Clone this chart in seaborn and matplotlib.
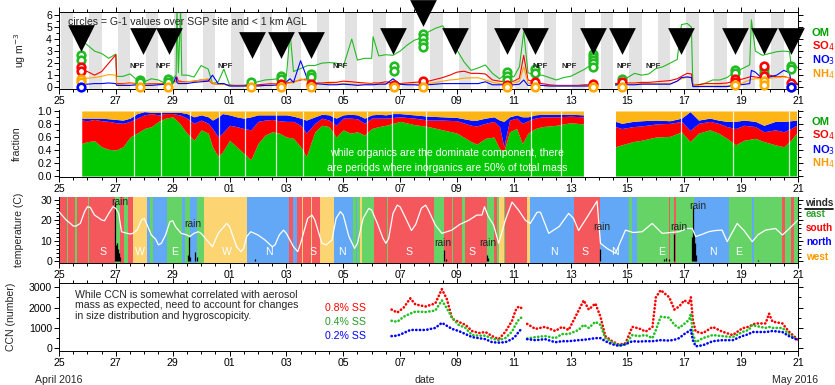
import numpy as np
import matplotlib
matplotlib.use('Agg')
import matplotlib.pyplot as plt
import seaborn as sns
from matplotlib.ticker import FixedLocator, MultipleLocator

nan = np.nan

# x axis = days since 25 April 2016 00 UTC
tick_pos = [0, 2, 4, 6, 8, 10, 12, 14, 16, 18, 20, 22, 24, 26]
tick_labels = ['25', '27', '29', '01', '03', '05', '07', '09', '11', '13', '15', '17', '19', '21']

# ---------------- panel 1: mass concentrations (ug m-3)
mass_t = [0.8, 0.85, 1.0, 1.25, 1.5, 1.75, 2.0, 2.03, 2.25, 2.5,
          2.75, 3.0, 3.25, 3.5, 3.75, 4.0, 4.12, 4.15, 4.2, 4.28,
          4.32, 4.5, 4.75, 5.0, 5.25, 5.4, 5.6, 5.8, 6.0, 6.25,
          6.5, 6.75, 7.0, 7.25, 7.5, 7.75, 8.0, 8.13, 8.25, 8.5,
          8.75, 9.0, 9.25, 9.5, 9.75, 10.0, 10.3, 10.5, 10.75, 11.0,
          11.05, 11.25, 11.5, 11.75, 12.0, 12.25, 12.5, 12.75, 13.0, 13.25,
          13.5, 13.75, 14.0, 14.25, 14.5, 14.75, 15.0, 15.25, 15.5, 15.75,
          16.0, 16.2, 16.35, 16.5, 16.75, 17.0, 17.25, 17.5, 17.75, 18.0,
          18.25, 18.5, 18.7, 19.0, 19.58, 19.75, 20.0, 20.25, 20.5, 20.75,
          21.0, 21.25, 21.5, 21.75, 21.9, 22.1, 22.25, 22.3, 22.5, 22.75,
          23.0, 23.25, 23.5, 23.75, 24.0, 24.3, 24.36, 24.5, 24.75, 25.0,
          25.25, 25.5, 25.7, 25.75, 26.0]
om = [3.9, 3.8, 3.5, 3.0, 2.8, 2.4, 2.75, 0.9, 0.9, 1.1,
      0.6, 0.45, 0.7, 0.6, 0.3, 0.7, 1.0, 6.5, 1.2, 6.5,
      1.0, 1.0, 0.85, 1.8, 1.5, 0.3, 0.45, 1.5, 0.2, 0.1,
      0.15, 0.3, 0.45, 0.6, 0.65, 0.7, 0.9, 4.5, 1.3, 1.55,
      1.8, 1.8, 2.0, 2.05, 2.0, 1.7, 4.0, 2.25, 2.4, 2.4,
      4.2, 2.6, 2.7, 2.65, 3.0, 3.5, 3.9, 4.1, 4.6, 4.9,
      5.1, 4.2, 3.1, 2.1, 1.4, 1.6, 1.85, 1.15, 0.7, 1.15,
      0.85, 1.7, 4.6, 1.2, 1.0, 1.0, 0.8, 0.6, 0.8, 0.9,
      1.2, 1.5, 1.85, nan, 0.15, 0.3, 0.8, 1.15, 1.0, 1.1,
      1.55, 1.7, 2.0, 2.3, 5.2, 5.3, 5.0, 0.15, 0.2, 0.35,
      0.6, 0.6, 0.8, 1.2, 1.5, 1.85, 5.6, 3.0, 2.65, 2.8,
      2.95, 3.0, 2.95, 2.0, 1.6]
so4 = [1.4, 1.4, 1.3, 1.0, 1.3, 2.0, 2.7, 0.3, 0.3, 0.35,
       0.3, 0.25, 0.3, 0.3, 0.3, 0.45, 0.5, 0.85, 0.5, 0.5,
       0.45, 0.45, 0.5, 0.6, 0.6, 0.3, 0.25, 0.25, 0.15, 0.15,
       0.15, 0.15, 0.2, 0.25, 0.3, 0.3, 0.35, 0.4, 0.45, 0.6,
       0.7, 0.35, 0.35, 0.4, 0.4, 0.5, 0.45, 0.4, 0.35, 0.3,
       0.35, 0.35, 0.45, 0.35, 0.3, 0.35, 0.4, 0.45, 0.5, 0.65,
       0.8, 1.0, 1.25, 1.33, 1.15, 1.15, 1.1, 0.6, 0.5, 0.45,
       0.5, 0.75, 2.65, 0.6, 0.4, 0.3, 0.2, 0.15, 0.15, 0.15,
       0.15, 0.2, 0.2, nan, 0.3, 0.35, 0.35, 0.35, 0.4, 0.4,
       0.45, 0.5, 0.55, 0.7, 0.9, 1.15, 1.1, 0.15, 0.2, 0.3,
       0.3, 0.3, 0.35, 0.5, 0.65, 0.85, 0.9, 0.85, 0.75, 1.0,
       0.85, 0.9, 0.75, 0.5, 0.3]
no3 = [0.25, 0.25, 0.25, 0.3, 0.3, 0.35, 0.3, 0.15, 0.15, 0.15,
       0.2, 0.15, 0.15, 0.2, 0.25, 0.3, 0.85, 0.4, 0.3, 0.3,
       0.3, 0.3, 0.4, 0.45, 0.5, 1.0, 0.3, 0.3, 0.1, 0.1,
       0.1, 0.1, 0.1, 0.15, 0.15, 0.2, 0.45, 0.7, 0.4, 2.2,
       0.6, 0.3, 0.25, 0.2, 0.2, 0.25, 0.2, 0.15, 0.2, 0.2,
       0.2, 0.25, 0.25, 0.7, 0.25, 0.2, 0.2, 0.15, 0.2, 0.25,
       0.3, 0.3, 0.3, 0.3, 0.3, 0.3, 0.45, 0.2, 0.2, 0.2,
       0.2, 0.25, 0.6, 0.15, 0.15, 0.15, 0.1, 0.1, 0.1, 0.1,
       0.1, 0.1, 0.1, nan, 0.2, 0.2, 0.2, 0.2, 0.25, 0.25,
       0.25, 0.25, 0.25, 0.5, 0.8, 0.85, 0.8, 0.05, 0.05, 0.05,
       0.05, 0.05, 0.05, 0.15, 0.2, 0.3, 1.4, 1.25, 0.7, 0.85,
       1.0, 1.4, 1.2, 0.5, 0.2]
nh4 = [0.72, 0.72, 0.75, 0.8, 0.9, 1.05, 1.0, 0.22, 0.25, 0.3,
       0.25, 0.2, 0.25, 0.25, 0.25, 0.35, 0.45, 0.5, 0.4, 0.4,
       0.4, 0.45, 0.5, 0.6, 0.7, 0.35, 0.25, 0.25, 0.1, 0.1,
       0.1, 0.1, 0.1, 0.15, 0.25, 0.3, 0.3, 0.35, 0.35, 0.7,
       0.5, 0.3, 0.3, 0.3, 0.25, 0.3, 0.25, 0.25, 0.25, 0.25,
       0.25, 0.25, 0.3, 0.25, 0.25, 0.25, 0.25, 0.25, 0.3, 0.4,
       0.5, 0.6, 0.65, 0.75, 0.78, 0.78, 0.6, 0.4, 0.3, 0.3,
       0.35, 0.5, 1.7, 0.35, 0.2, 0.15, 0.1, 0.1, 0.1, 0.1,
       0.1, 0.1, 0.1, nan, 0.2, 0.25, 0.25, 0.25, 0.3, 0.3,
       0.3, 0.3, 0.3, 0.5, 0.7, 0.85, 0.8, 0.1, 0.1, 0.1,
       0.1, 0.1, 0.1, 0.2, 0.3, 0.6, 0.65, 0.7, 0.7, 0.75,
       0.8, 0.85, 0.8, 0.45, 0.2]

# G-1 aircraft values (circles) and flight markers (triangles)
om_circ_t = [0.77, 0.77, 2.85, 2.85, 3.85, 3.85, 6.75, 7.8, 7.8, 8.85, 8.85, 11.78, 11.78,
             12.82, 12.82, 12.82, 12.82, 15.77, 15.77, 15.77, 16.76, 16.76,
             18.8, 18.8, 18.8, 18.8, 18.8, 19.82, 23.8, 23.8, 24.79, 24.79, 25.74, 25.74]
om_circ_v = [2.65, 2.25, 0.6, 0.45, 0.7, 0.45, 0.4, 0.95, 0.7, 1.1, 0.85, 1.75, 1.35,
             4.45, 4.05, 3.65, 3.3, 1.3, 0.95, 0.6, 1.55, 1.15,
             2.8, 2.5, 2.25, 1.97, 1.7, 0.72, 1.4, 1.15, 1.5, 1.2, 1.8, 1.5]
so4_circ_t = [0.77, 0.77, 7.8, 8.85, 11.78, 12.82, 15.77, 16.76, 18.8, 19.82, 23.8, 23.8, 24.79, 24.79, 25.74]
so4_circ_v = [1.7, 1.35, 0.3, 0.25, 0.2, 0.5, 0.2, 0.4, 0.25, 0.4, 0.67, 0.44, 1.8, 0.9, 0.33]
nh4_circ_t = [0.77, 0.77, 2.85, 3.85, 6.75, 7.8, 8.85, 11.78, 12.82, 15.77, 16.76, 18.8, 19.82, 23.8, 24.79, 24.79, 25.74]
nh4_circ_v = [0.72, 0.44, 0.02, 0.02, 0.02, 0.05, 0.03, 0.03, 0.02, 0.03, 0.05, 0.02, 0.03, 0.17, 0.55, 0.2, 0.05]
no3_circ_t = [0.77, 25.74]
no3_circ_v = [0.02, 0.05]
tri_t = [0.77, 2.96, 3.87, 6.8, 7.82, 8.86, 11.76, 12.82, 13.94, 15.77, 16.76,
         18.8, 19.82, 21.87, 23.8, 24.79, 25.74]
tri_y = [4.05, 3.8, 3.8, 3.5, 3.5, 3.5, 3.8, 6.2, 3.8, 3.8, 3.8, 3.8, 3.8, 3.8, 3.8, 3.8, 3.8]
npf_t = [2.75, 3.66, 5.85, 9.9, 16.94, 17.96, 19.9, 20.9]
night_days = list(range(26))

# ---------------- panel 2: cumulative mass fractions
frac_t = [0.8, 1.0, 1.25, 1.5, 1.75, 2.0, 2.25, 2.5, 2.75, 3.0,
          3.25, 3.5, 3.75, 4.0, 4.25, 4.5, 4.75, 5.0, 5.25, 5.4,
          5.6, 5.75, 6.0, 6.25, 6.5, 6.75, 7.0, 7.25, 7.5, 7.75,
          8.0, 8.25, 8.5, 8.7, 9.0, 9.25, 9.5, 9.75, 10.0, 10.25,
          10.5, 10.75, 11.0, 11.25, 11.5, 11.75, 12.0, 12.5, 13.0, 13.5,
          14.0, 14.5, 14.7, 15.0, 15.3, 15.5, 15.65, 15.85, 16.1, 16.3,
          16.5, 16.75, 17.0, 17.5, 18.0, 18.45, 19.0, 19.58, 19.8, 20.2,
          20.5, 21.0, 21.5, 21.9, 22.2, 22.5, 22.9, 23.2, 23.5, 23.8,
          24.1, 24.5, 24.8, 25.2, 25.5, 25.75, 25.95]
om_frac = [0.50, 0.53, 0.54, 0.45, 0.41, 0.40, 0.45, 0.60, 0.66, 0.73,
           0.76, 0.84, 0.89, 0.91, 0.81, 0.66, 0.55, 0.71, 0.66, 0.45,
           0.30, 0.37, 0.55, 0.45, 0.35, 0.25, 0.50, 0.63, 0.68, 0.66,
           0.60, 0.58, 0.45, 0.30, 0.68, 0.78, 0.76, 0.60, 0.71, 0.66,
           0.68, 0.63, 0.73, 0.76, 0.78, 0.81, 0.84, 0.79, 0.76, 0.71,
           0.66, 0.53, 0.49, 0.58, 0.60, 0.42, 0.38, 0.68, 0.73, 0.50,
           0.66, 0.73, 0.76, 0.78, 0.82, 0.80, nan, 0.45, 0.48, 0.53,
           0.55, 0.60, 0.61, 0.68, 0.53, 0.66, 0.71, 0.66, 0.58, 0.48,
           0.55, 0.58, 0.53, 0.48, 0.45, 0.55, 0.66]
so4_top = [0.86, 0.85, 0.87, 0.85, 0.84, 0.82, 0.81, 0.84, 0.89, 0.94,
           0.96, 0.94, 0.96, 0.96, 0.94, 0.89, 0.81, 0.86, 0.81, 0.73,
           0.60, 0.66, 0.78, 0.76, 0.73, 0.71, 0.84, 0.86, 0.87, 0.85,
           0.84, 0.84, 0.78, 0.66, 0.81, 0.89, 0.86, 0.78, 0.89, 0.89,
           0.88, 0.81, 0.89, 0.89, 0.89, 0.90, 0.91, 0.89, 0.86, 0.86,
           0.85, 0.78, 0.77, 0.81, 0.84, 0.76, 0.45, 0.86, 0.89, 0.81,
           0.85, 0.89, 0.91, 0.91, 0.92, 0.91, nan, 0.76, 0.73, 0.76,
           0.77, 0.80, 0.81, 0.84, 0.70, 0.81, 0.84, 0.81, 0.76, 0.73,
           0.78, 0.76, 0.68, 0.71, 0.68, 0.73, 0.78]
no3_top = [0.89, 0.89, 0.89, 0.89, 0.88, 0.87, 0.86, 0.89, 0.96, 0.99,
           0.98, 0.98, 0.98, 0.98, 0.98, 0.96, 0.91, 0.94, 0.91, 0.86,
           0.91, 0.96, 0.94, 0.91, 0.89, 0.91, 0.94, 0.94, 0.94, 0.94,
           0.94, 0.92, 0.89, 0.86, 0.91, 0.95, 0.94, 0.89, 0.94, 0.95,
           0.94, 0.89, 0.94, 0.95, 0.94, 0.96, 0.96, 0.94, 0.92, 0.91,
           0.90, 0.86, 0.86, 0.89, 0.91, 0.86, 0.84, 0.91, 0.94, 0.91,
           0.91, 0.94, 0.95, 0.95, 0.95, 0.94, nan, 0.84, 0.81, 0.84,
           0.85, 0.86, 0.85, 0.89, 0.99, 0.86, 0.89, 0.86, 0.84, 0.84,
           0.86, 0.84, 0.78, 0.84, 0.84, 0.85, 0.86]
gap_lines_t = [2.64, 3.59, 4.61, 5.63, 6.55, 7.64, 8.6, 9.65, 10.84, 11.73,
               12.9, 16.6, 17.65, 21.9, 23.7, 25.7]

# ---------------- panel 3: temperature (C), wind sectors, rain
temp_t = [0.0, 0.1, 0.25, 0.4, 0.5, 0.6, 0.75, 0.9, 1.0, 1.1, 1.25, 1.5, 1.6, 1.75, 1.9,
          2.0, 2.1, 2.2, 2.4, 2.5, 2.6, 2.75, 2.9, 3.0, 3.1, 3.25, 3.4, 3.5, 3.6, 3.75,
          3.9, 4.0, 4.1, 4.3, 4.5, 4.6, 4.75, 4.9, 5.0, 5.25, 5.4, 5.6, 5.9, 6.0, 6.25,
          6.4, 6.5, 6.6, 6.75, 7.0, 7.25, 7.5, 7.6, 7.75, 7.9, 8.0, 8.25, 8.4, 8.5, 8.75,
          8.9, 9.0, 9.25, 9.4, 9.6, 9.75, 9.9, 10.0, 10.2, 10.4, 10.5, 10.7, 10.9, 11.0,
          11.2, 11.4, 11.5, 11.6, 11.75, 11.9, 12.0, 12.2, 12.4, 12.55, 12.75, 12.9, 13.0,
          13.24, 13.47, 13.82, 14.1, 14.41, 14.7, 14.88, 14.97, 15.1, 15.29, 15.47, 15.7,
          15.94, 16.17, 16.41, 16.58, 16.82, 16.94, 17.23, 17.6, 17.93, 18.1, 18.28, 18.6,
          18.93, 19.05, 19.3, 19.58, 19.93, 20.2, 20.52, 20.87, 21.22, 21.5, 21.81, 22.1,
          22.28, 22.4, 22.6, 22.86, 23.1, 23.33, 23.51, 23.86, 24.1, 24.39, 24.6, 24.86,
          25.21, 25.45, 25.7, 26.0]
temp_c = [24.3, 22.6, 20.2, 18.5, 17.2, 17.2, 18.5, 24.3, 26.7, 26.4, 22.6, 20.2, 19.8, 23.4, 26.7,
          25.9, 23.4, 14.4, 13.6, 13.3, 13.6, 15.2, 20.2, 21.0, 17.7, 12.8, 10.7, 7.9, 8.7, 12.8,
          19.3, 19.8, 16.9, 13.6, 12.8, 12.0, 13.6, 14.4, 13.6, 9.5, 7.0, 13.6, 18.5, 16.9, 7.0,
          4.6, 6.2, 12.0, 14.4, 12.8, 10.3, 7.0, 7.9, 12.8, 15.2, 13.6, 7.0, 4.6, 8.7, 21.0,
          22.6, 20.2, 8.7, 7.9, 10.3, 21.0, 24.3, 22.6, 12.0, 6.2, 8.7, 21.0, 25.9, 25.1,
          18.5, 11.1, 8.7, 11.1, 23.4, 27.5, 26.7, 21.0, 15.0, 18.0, 26.0, 27.5, 25.0,
          17.7, 13.6, 15.2, 18.0, 20.0, 22.6, 22.6, 26.7, 22.0, 17.7, 8.7, 20.0,
          29.0, 25.0, 20.0, 18.5, 24.0, 24.0, 13.6, 17.0, 23.4, 21.0, 15.0, 22.0,
          29.5, 8.7, 6.0, 3.8, 15.2, 14.0, 14.4, 18.5, 13.6, 14.0, 14.4, 16.0,
          16.0, 12.0, 13.0, 14.4, 15.0, 15.2, 9.5, 18.5, 15.0, 9.5, 13.0, 15.2,
          16.0, 12.8, 16.0, 20.2]
wind_edges = [0.0, 0.27, 0.33, 0.56, 0.65, 1.03, 1.06, 1.97, 2.15, 2.27, 2.44, 2.59, 3.09, 3.2,
              3.32, 3.79, 4.32, 4.44, 4.61, 4.85, 5.11, 6.61, 8.08, 8.25, 8.36, 8.55, 8.6, 8.85,
              8.9, 9.2, 9.66, 10.36, 10.45, 10.5, 10.6, 10.65, 11.07, 11.54, 11.58, 13.18, 13.53,
              13.82, 13.86, 14.18, 14.27, 15.06, 15.3, 15.4, 15.47, 15.65, 15.7, 16.47, 16.58,
              18.11, 19.05, 20.05, 20.16, 20.34, 21.45, 21.5, 21.63, 21.71, 22.33, 23.57, 24.39,
              24.45, 25.45, 25.56, 25.74, 25.86, 26.0]
wind_dir = ('S E S E S E S E S E S W N E N E N E N E W N S N S W S W S W '
            'N E N E W E S E S E S E S E S E S E W E S W N S N E N E S E '
            'S E N E N E S E S E').split()
wind_lab_t = [1.56, 2.83, 4.08, 5.9, 7.4, 8.95, 9.95, 12.3, 14.53, 17.4, 18.5, 19.55, 21.2, 23.0, 23.9]
wind_lab = ['S', 'W', 'E', 'W', 'N', 'S', 'N', 'S', 'S', 'N', 'S', 'N', 'E', 'N', 'E']
rain_t = [1.97, 2.02, 2.05, 2.08, 2.12, 2.15, 4.55, 4.58, 4.62, 4.8, 4.85, 6.9, 13.53, 13.6,
          15.05, 15.1, 19.05, 21.3, 21.37, 21.45, 21.65, 22.27, 22.3, 22.33, 22.36, 22.4, 24.6]
rain_h = [29, 8, 9, 6, 4, 2, 3, 12, 2, 4.6, 2, 1, 5.5, 1, 3, 1.5, 6, 1, 1.5, 1, 13.5, 12, 27,
          14, 9, 3, 0.5]
rain_lab_t = [2.15, 4.7, 13.5, 15.07, 19.1, 21.8, 22.47]
rain_lab_y = [29.2, 18.2, 9.0, 9.0, 16.7, 16.7, 27.0]

# ---------------- panel 4: CCN number at three supersaturations
ccn_t = [11.7, 11.9, 12.13, 12.36, 12.54, 12.9, 13.24, 13.47, 13.65, 13.83,
         14.06, 14.3, 14.53, 14.77, 15.0, 15.24, 15.47, 15.7, 15.94, 16.06,
         16.17, 16.3, 16.38, 16.47, 16.76, 17.1, 17.46, 17.7, 17.93, 18.28,
         18.46, 18.64, 18.87, 19.05, 19.22, 19.46, 19.7, 19.93, 20.17, 20.4,
         20.64, 20.88, 21.0, 21.17, 21.47, 21.65, 21.82, 22.0, 22.17, 22.23,
         22.3, 22.4, 22.65, 23.0, 23.33, 23.7, 24.04, 24.27, 24.39, 24.5,
         24.86, 24.98, 25.1, 25.45, 25.68, 26.0]
ccn_08 = [1900, 1750, 2000, 2450, 2150, 2050, 2200, 2900, 2400, 1450,
          1300, 1150, 850, 750, 800, 600, 450, 800, 1350, 1850,
          2050, 1950, nan, 1200, 950, 1050, 850, 1050, 900, 1850,
          2350, 1900, 2200, 1550, 600, 350, 180, 250, 1050, 980,
          820, 1050, 2500, 2850, 2500, 1900, 2050, 2350, 2200, 2500,
          1400, 820, 740, 1050, 820, 650, 980, 1060, 1150, 1220,
          1220, 1700, 1310, 1220, 820, 420]
ccn_04 = [1350, 1300, 1550, 1700, 1800, 1780, 1850, 2350, 1950, 1500,
          1150, 1000, 650, 620, 620, 480, 400, 500, 820, 1150,
          1390, 1550, nan, 480, 550, 600, 500, 700, 700, 900,
          1150, 1000, 1300, 1150, 500, 300, 150, 200, 650, 600,
          650, 500, 900, 1550, 1500, 1150, 1000, 1200, 1400, 1700,
          700, 300, 500, 650, 600, 550, 800, 900, 1150, 1100,
          1000, 1050, 1000, 1000, 700, 400]
ccn_02 = [600, 620, 750, 900, 900, 900, 1000, 1250, 1100, 950,
          850, 700, 550, 500, 450, 300, 280, 300, 450, 600,
          800, 1000, nan, 450, 400, 450, 300, 350, 350, 400,
          420, 450, 500, 500, 350, 200, 120, 200, 350, 330,
          350, 350, 370, 400, 380, 420, 500, 700, 850, 900,
          400, 100, 150, 350, 400, 400, 600, 700, 800, 800,
          800, 820, 850, 800, 600, 400]

# ---------------- colours
c_om, c_so4, c_no3, c_nh4 = '#22bb22', '#ff0000', '#0000ff', '#ffa800'
f_om, f_so4, f_no3, f_nh4 = '#00c800', '#ff0000', '#0010ff', '#fdb515'
wind_colors = {'S': '#f4575c', 'W': '#fcd472', 'N': '#63a8f6', 'E': '#66d366'}

sns.set_theme(style='ticks')
plt.rcParams['font.family'] = ['Liberation Sans', 'DejaVu Sans']
plt.rcParams['axes.linewidth'] = 0.8
plt.rcParams['axes.edgecolor'] = 'black'

W, H = 835.0, 385.0
fig = plt.figure(figsize=(8.35, 3.85), dpi=100)


def add_ax(top, bottom, left=59, right=798):
    return fig.add_axes([left / W, 1 - bottom / H, (right - left) / W, (bottom - top) / H])


def ftext(x, y, s, **kw):
    fig.text(x / W, 1 - y / H, s, **kw)


def runs(t, v):
    # split a series at NaN gaps
    t = np.asarray(t, float)
    v = np.asarray(v, float)
    ok = ~np.isnan(v)
    edges = np.flatnonzero(np.diff(np.r_[0, ok.astype(int), 0]))
    return [(t[a:b], v[a:b]) for a, b in zip(edges[::2], edges[1::2])]


def seg_line(ax, t, v, **kw):
    for tt, vv in runs(t, v):
        sns.lineplot(x=tt, y=vv, ax=ax, estimator=None, sort=False, **kw)


ax1 = add_ax(12, 89)
ax2 = add_ax(110, 177)
ax3 = add_ax(197, 263)
ax4 = add_ax(283, 351)

# ---- panel 1
for d in night_days:
    ax1.axvspan(d + 0.06, d + 0.5, color='#e2e2e2', lw=0, zorder=0)
seg_line(ax1, mass_t, om, color=c_om, lw=0.8)
seg_line(ax1, mass_t, so4, color=c_so4, lw=0.8)
seg_line(ax1, mass_t, nh4, color=c_nh4, lw=0.8)
seg_line(ax1, mass_t, no3, color=c_no3, lw=0.8)
for ct, cv, col in [(om_circ_t, om_circ_v, c_om), (so4_circ_t, so4_circ_v, c_so4),
                    (nh4_circ_t, nh4_circ_v, c_nh4), (no3_circ_t, no3_circ_v, c_no3)]:
    sns.scatterplot(x=ct, y=cv, ax=ax1, s=30, color='white', edgecolor=col,
                    linewidth=1.9, zorder=4, clip_on=False)
sns.scatterplot(x=tri_t, y=tri_y, ax=ax1, marker='v', s=370, color='black',
                linewidth=0, zorder=5, clip_on=False)
ax1.text(0.32, 5.42, 'circles = G-1 values over SGP site and < 1 km AGL', fontsize=7.6,
         va='center', zorder=6)
for t in npf_t:
    ax1.text(t, 1.75, 'NPF', fontsize=5.6, fontweight='bold', ha='center', va='center', zorder=6)
ax1.set_ylim(-0.15, 6.25)
ax1.yaxis.set_major_locator(MultipleLocator(1))
ax1.yaxis.set_minor_locator(MultipleLocator(0.5))
ax1.set_ylabel('ug m$^{-3}$', fontsize=7.6)

# ---- panel 2
for (tt, a), (_, b), (_, c) in zip(runs(frac_t, om_frac), runs(frac_t, so4_top), runs(frac_t, no3_top)):
    ax2.fill_between(tt, 0, a, color=f_om, lw=0)
    ax2.fill_between(tt, a, b, color=f_so4, lw=0)
    ax2.fill_between(tt, b, c, color=f_no3, lw=0)
    ax2.fill_between(tt, c, 1, color=f_nh4, lw=0)
ax2.vlines(gap_lines_t, 0, 1, color='white', lw=0.9, alpha=0.85)
ax2.text(13.65, 0.36, 'while organics are the dominate component, there', color='white',
         fontsize=7.6, ha='center', va='center')
ax2.text(13.65, 0.13, 'are periods where inorganics are 50% of total mass', color='white',
         fontsize=7.6, ha='center', va='center')
ax2.set_ylim(-0.015, 1.015)
ax2.set_yticks([0, 0.2, 0.4, 0.6, 0.8, 1.0])
ax2.set_yticklabels(['0.0', '0.2', '0.4', '0.6', '0.8', '1.0'])
ax2.yaxis.set_minor_locator(MultipleLocator(0.1))
ax2.set_ylabel('fraction', fontsize=7.6)

# ---- panel 3
for a, b, wd in zip(wind_edges[:-1], wind_edges[1:], wind_dir):
    ax3.axvspan(a, b, color=wind_colors[wd], lw=0, zorder=0)
ax3.vlines(rain_t, 0, rain_h, color='black', lw=0.9, zorder=2)
sns.lineplot(x=temp_t, y=temp_c, ax=ax3, color='white', lw=0.9, estimator=None, sort=False, zorder=3)
for t, s in zip(wind_lab_t, wind_lab):
    ax3.text(t, 4.2, s, color='white', fontsize=7.6, ha='center', va='center')
for t, y in zip(rain_lab_t, rain_lab_y):
    ax3.text(t, y, 'rain', fontsize=7.4, ha='center', va='center', zorder=4)
ax3.set_ylim(-1, 31.5)
ax3.set_yticks([0, 10, 20, 30])
ax3.yaxis.set_minor_locator(MultipleLocator(2))
ax3.set_ylabel('temperature (C)', fontsize=7.6)

# ---- panel 4
for vals, col in [(ccn_08, '#ff0000'), (ccn_04, '#22c022'), (ccn_02, '#0000ff')]:
    seg_line(ax4, ccn_t, vals, color=col, lw=1.9, linestyle=(0, (0.1, 1.3)),
             dash_capstyle='round')
ax4.text(0.55, 2100, 'While CCN is somewhat correlated with aerosol\n'
         'mass as expected, need to account for changes\n'
         'in size distribution and hygroscopicity.', fontsize=7.6, va='center',
         linespacing=1.05)
ax4.text(9.35, 2000, '0.8% SS', color='#ff0000', fontsize=7.6, va='center')
ax4.text(9.35, 1280, '0.4% SS', color='#2a9a2a', fontsize=7.6, va='center')
ax4.text(9.35, 590, '0.2% SS', color='#0000ff', fontsize=7.6, va='center')
ax4.set_ylim(-130, 3200)
ax4.set_yticks([0, 1000, 2000, 3000])
ax4.yaxis.set_minor_locator(MultipleLocator(500))
ax4.set_ylabel('CCN (number)', fontsize=7.6)

# ---- shared axis styling
for ax in (ax1, ax2, ax3, ax4):
    ax.set_xlim(0, 26)
    ax.xaxis.set_major_locator(FixedLocator(tick_pos))
    ax.set_xticklabels(tick_labels)
    ax.xaxis.set_minor_locator(MultipleLocator(0.5))
    ax.tick_params(which='both', direction='out', labelsize=7.6, width=0.7, colors='black',
                   pad=1.5, right=True, labelright=False)
    ax.tick_params(which='major', length=3.5)
    ax.tick_params(which='minor', length=2)
    ax.set_xlabel('')
    for sp in ax.spines.values():
        sp.set_color('black')
        sp.set_linewidth(0.7)
for ax in (ax2, ax3):
    ax.spines['top'].set_visible(False)
for ax in (ax1, ax4):
    ax.tick_params(axis='x', which='both', top=True, labeltop=False)
ax1.yaxis.set_label_coords(-0.042, 0.5)
ax2.yaxis.set_label_coords(-0.05, 0.5)
ax3.yaxis.set_label_coords(-0.047, 0.5)
ax4.yaxis.set_label_coords(-0.058, 0.5)

# ---- right-hand legends
for y, s, col in [(33, 'OM', '#00a000'), (46, 'SO$_4$', '#ff0000'), (60, 'NO$_3$', '#0000ff'), (74, 'NH$_4$', '#ff9900')]:
    ftext(812, y, s, color=col, fontsize=8, fontweight='bold', va='center')
for y, s, col in [(122, 'OM', '#00a000'), (135, 'SO$_4$', '#ff0000'), (150, 'NO$_3$', '#0000ff'), (163, 'NH$_4$', '#ff9900')]:
    ftext(812, y, s, color=col, fontsize=8, fontweight='bold', va='center')
ftext(805, 203, 'winds', fontsize=7.2, fontweight='bold', va='center')
fig.add_artist(plt.Line2D([805 / W, 833 / W], [1 - 208.5 / H, 1 - 208.5 / H], color='black', lw=1.2))
for y, s, col in [(214, 'east', '#2ea12e'), (228, 'south', '#ff0000'), (242, 'north', '#0000ff'), (257, 'west', '#ff9900')]:
    ftext(806, y, s, color=col, fontsize=7.2, fontweight='bold', va='center')

ftext(35, 380, 'April 2016', fontsize=7.6, va='center')
ftext(425, 380, 'date', fontsize=7.6, va='center', ha='center')
ftext(818, 380, 'May 2016', fontsize=7.6, va='center', ha='right')

fig.savefig('out.png', dpi=100)
